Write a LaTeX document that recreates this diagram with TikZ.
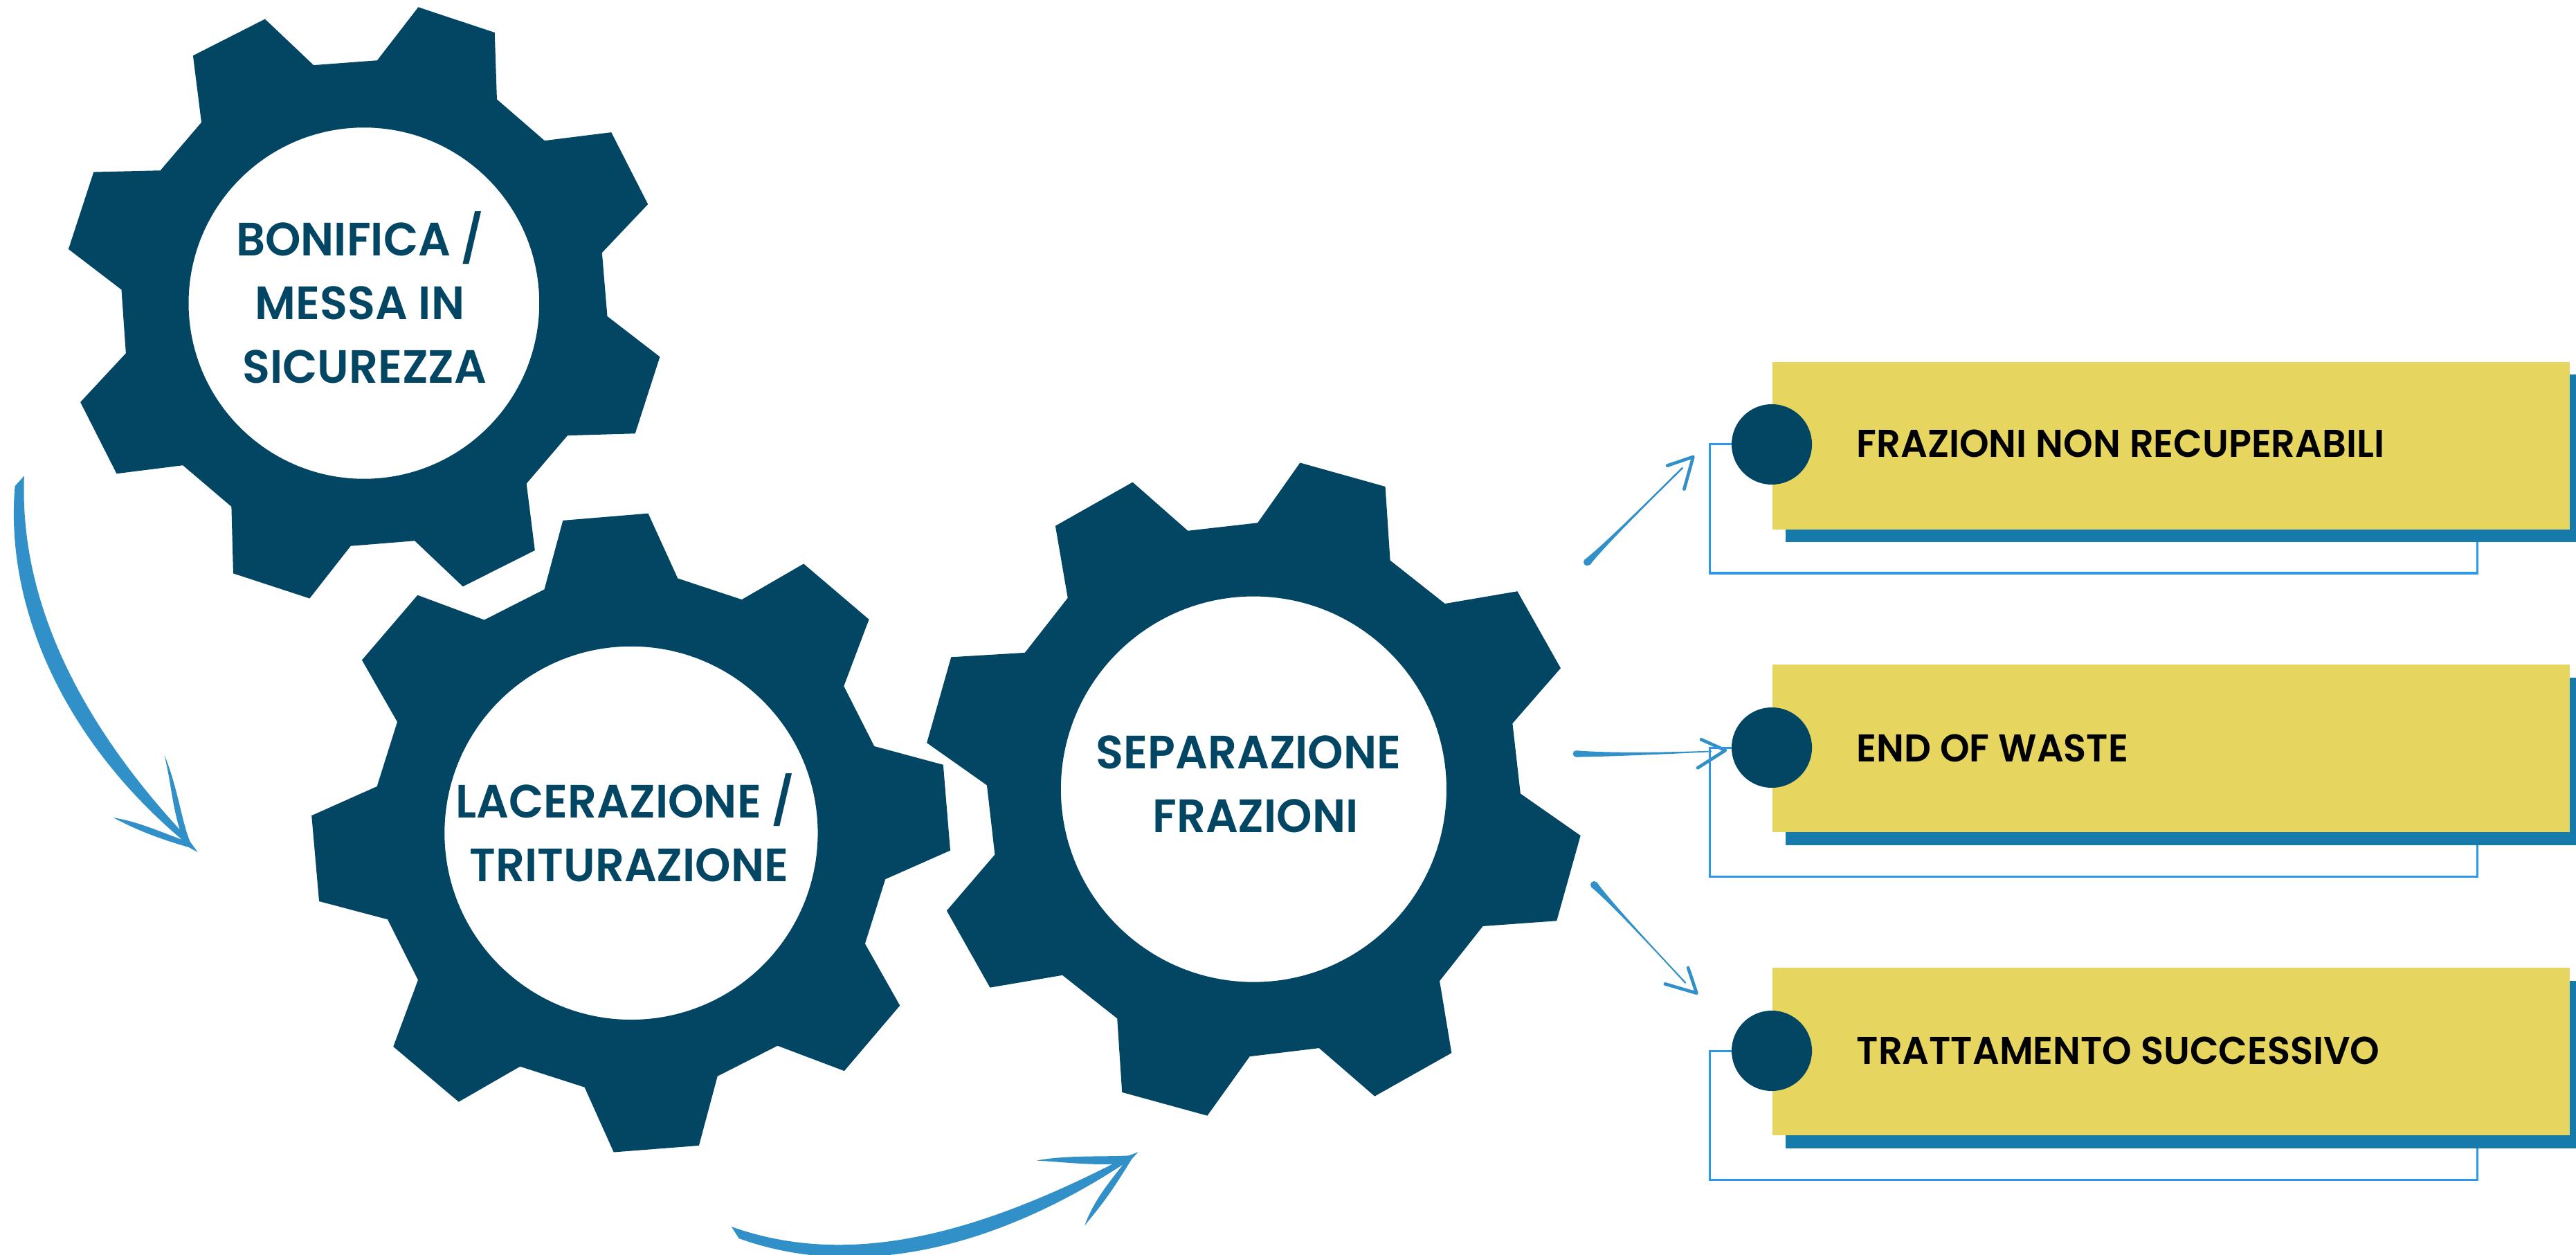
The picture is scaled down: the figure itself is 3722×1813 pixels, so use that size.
\documentclass[tikz,border=0pt]{standalone}
\usepackage{fontspec}
\setmainfont{Poppins SemiBold}[FakeStretch=0.97]
\definecolor{gearblue}{HTML}{024664}
\definecolor{boxyellow}{HTML}{E6D55F}
\definecolor{shadowblue}{HTML}{167AAB}
\definecolor{arrowblue}{HTML}{3190C8}
\definecolor{lineblue}{HTML}{2F96EC}
\tikzset{
 gearshape/.style={fill=gearblue,even odd rule},
 geartext/.style={text=gearblue,align=center,inner sep=0pt,font=\fontsize{19.2pt}{26.2pt}\selectfont},
 boxtext/.style={text=black,anchor=base west,inner sep=0pt,font=\fontsize{15.9pt}{18pt}\selectfont},
 boxy/.style={fill=boxyellow,anchor=north west,minimum width=11.52cm,minimum height=2.42cm,inner sep=0pt},
 shadowy/.style={fill=shadowblue,anchor=north west,minimum width=11.43cm,minimum height=2.42cm,inner sep=0pt},
 dotty/.style={circle,fill=gearblue,minimum size=1.16cm,inner sep=0pt},
 bracket/.style={draw=lineblue,line width=0.03cm},
 sketch/.style={fill=arrowblue},
 barb/.style={draw=arrowblue,line width=0.047cm,line cap=round,line join=round},
}
\begin{document}
\begin{tikzpicture}[x=0.01cm,y=-0.01cm]
\useasboundingbox (0,0) rectangle (3722,1813);
\clip (0,0) rectangle (3722,1813);
% gear 1
\begin{scope}[x=0.0063776cm,y=-0.0057398cm]
\fill[gearshape] (947,18)--(1120,82)--(1125,250)--(1233,354)--(1384,333)--(1467,514)--(1363,636)--(1375,796)--(1494,898)--(1438,1091)--(1285,1096)--(1192,1217)--(1211,1385)--(1048,1476)--(939,1361)--(794,1374)--(701,1506)--(528,1443)--(524,1275)--(414,1171)--(264,1192)--(182,1012)--(285,889)--(275,729)--(155,627)--(212,433)--(363,429)--(456,308)--(437,140)--(600,48)--(710,164)--(854,152)--cycle
 (824,763) ellipse [x radius=397,y radius=442];
\end{scope}
% gear 2
\begin{scope}[shift={(440,720)},x=0.0063776cm,y=-0.0063776cm]
\fill[gearshape] (585,50)--(778,34)--(845,181)--(990,229)--(1130,148)--(1278,274)--(1221,425)--(1290,561)--(1446,603)--(1462,797)--(1315,862)--(1269,1008)--(1348,1148)--(1222,1296)--(1071,1239)--(935,1308)--(893,1465)--(700,1480)--(634,1333)--(488,1286)--(349,1366)--(201,1241)--(257,1090)--(188,953)--(33,912)--(16,718)--(164,652)--(210,506)--(130,366)--(256,219)--(407,275)--(543,206)--cycle
 (739.5,757.5) circle [radius=422.5];
\end{scope}
% gear 3
\begin{scope}[shift={(1320,650)},x=0.0063776cm,y=-0.0063776cm]
\fill[gearshape] (875,29)--(1068,83)--(1079,250)--(1203,348)--(1367,320)--(1465,494)--(1356,619)--(1374,778)--(1510,873)--(1456,1066)--(1289,1078)--(1191,1202)--(1218,1365)--(1044,1463)--(918,1354)--(761,1373)--(665,1507)--(472,1454)--(461,1287)--(337,1189)--(173,1217)--(75,1043)--(184,916)--(166,759)--(30,663)--(85,469)--(252,459)--(349,335)--(321,172)--(496,73)--(621,183)--(779,165)--cycle
 (770,768) circle [radius=436.5];
\end{scope}
% gear labels
\node[geartext] (t1) at (520,430) {BONIFICA /\\MESSA IN\\\hspace*{0.14cm}SICUREZZA};
\node[geartext] (t2) at (903,1196) {LACERAZIONE /\\\hspace*{0.12cm}TRITURAZIONE};
\node[geartext] (t3) at (1804,1133) {SEPARAZIONE\\\hspace*{0.2cm}FRAZIONI};
% big arrow left
\begin{scope}[shift={(0,660)},x=0.0033333cm,y=-0.0038265cm]
\coordinate (leftTail) at (65,110);
\coordinate (leftTip) at (858,1490);
\fill[sketch] (leftTail)--(105,72) .. controls (85,500) and (300,950) .. (780,1405)
 .. controls (745,1300) and (745,1240) .. (714,1125)
 .. controls (770,1240) and (790,1380) .. (825,1450)
 -- (leftTip) -- (820,1472) .. controls (700,1442) and (600,1410) .. (492,1360)
 .. controls (600,1375) and (700,1415) .. (790,1443)
 .. controls (270,1060) and (20,560) .. (leftTail) -- cycle;
\end{scope}
% big arrow bottom
\begin{scope}[shift={(1020,1630)},x=0.0043367cm,y=-0.0033333cm]
\coordinate (botTail) at (85,427);
\coordinate (botTip) at (1440,103);
\fill[sketch] (botTail) .. controls (480,610) and (900,455) .. (1355,155)
 .. controls (1270,160) and (1180,145) .. (1102,140)
 .. controls (1200,115) and (1330,125) .. (1410,118)
 -- (botTip) -- (1418,135)
 .. controls (1350,280) and (1320,330) .. (1262,422)
 .. controls (1290,320) and (1340,240) .. (1390,157)
 .. controls (950,530) and (500,660) .. (110,478) -- cycle;
\end{scope}
% small arrow top
\begin{scope}[shift={(2270,640)},x=0.0033333cm,y=-0.0033333cm]
\coordinate (aTail) at (70,517);
\coordinate (aTip) at (530,60);
\fill[sketch] (aTail) circle [radius=16];
\fill[sketch] (59,506) .. controls (128,452) and (275,310) .. (482,104) -- (487,110) .. controls (279,314) and (136,460) .. (82,529) -- cycle;
\draw[barb] (418,98) -- (aTip) -- (491,200);
\end{scope}
% small arrow middle
\begin{scope}[shift={(2260,1040)},x=0.0033333cm,y=-0.0033333cm]
\coordinate (bTail) at (52,147);
\coordinate (bTip) at (700,132);
\fill[sketch] (bTail) circle [radius=14];
\fill[sketch] (52,133) .. controls (150,140) and (300,146) .. (640,134) -- (640,139) .. controls (300,155) and (150,160) .. (52,161) -- cycle;
\draw[barb] (595,85) -- (bTip) -- (580,208);
\end{scope}
% small arrow bottom
\begin{scope}[shift={(2280,1260)},x=0.0033333cm,y=-0.0033333cm]
\coordinate (cTail) at (70,55);
\coordinate (cTip) at (515,525);
\fill[sketch] (cTail) circle [radius=16];
\fill[sketch] (59,66) .. controls (126,123) and (267,268) .. (465,484) -- (470,479) .. controls (271,268) and (134,115) .. (82,44) -- cycle;
\draw[barb] (478,415) -- (cTip) -- (378,485);
\end{scope}
% box groups
\coordinate (d1) at (2560,642);
\coordinate (d2) at (2560,1080);
\coordinate (d3) at (2560,1518);
\coordinate (c1) at (2470,828);
\coordinate (c2) at (2470,1266);
\coordinate (c3) at (2470,1704);
\coordinate (e1) at (3579,770);
\coordinate (e2) at (3579,1208);
\coordinate (e3) at (3579,1646);
\draw[bracket] (d1) -| (c1) -| (e1);
\draw[bracket] (d2) -| (c2) -| (e2);
\draw[bracket] (d3) -| (c3) -| (e3);
\node[shadowy] (s1) at (2579,540) {};
\node[shadowy] (s2) at (2579,978) {};
\node[shadowy] (s3) at (2579,1416) {};
\node[boxy] (b1) at (2560,522) {};
\node[boxy] (b2) at (2560,959) {};
\node[boxy] (b3) at (2560,1397) {};
\node[dotty] (o1) at (d1) {};
\node[dotty] (o2) at (d2) {};
\node[dotty] (o3) at (d3) {};
\node[boxtext] (l1) at (2682,661) {FRAZIONI NON RECUPERABILI};
\node[boxtext] (l2) at (2682,1100) {END OF WASTE};
\node[boxtext] (l3) at (2682,1537) {TRATTAMENTO SUCCESSIVO};
\end{tikzpicture}
\end{document}
